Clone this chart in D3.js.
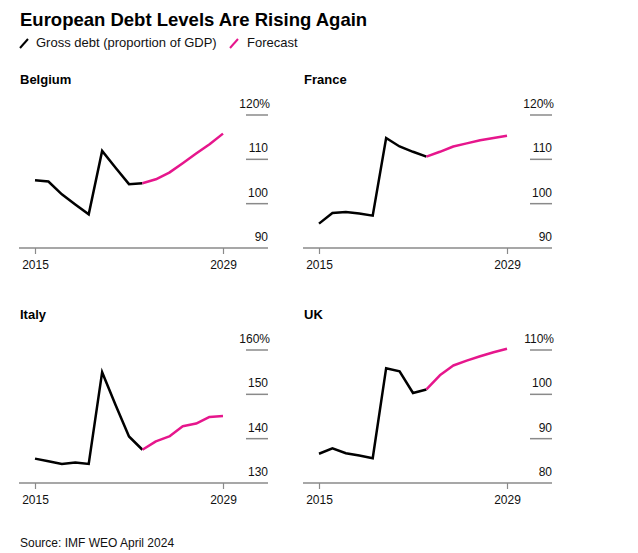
<!DOCTYPE html>
<html>
<head>
<meta charset="utf-8">
<script src="https://cdn.jsdelivr.net/npm/d3@7"></script>
<style>
  html, body { margin: 0; padding: 0; background: #fff; }
  svg { display: block; font-family: "Liberation Sans", Arial, sans-serif; }
</style>
</head>
<body>
<svg id="chart" width="638" height="553"></svg>
<script>
// ---- data ----
const years = [2015,2016,2017,2018,2019,2020,2021,2022,2023,2024,2025,2026,2027,2028,2029];
const forecastStartYear = 2023;
const countries = ["Belgium", "France", "Italy", "UK"];
const belgium = [105.3,105.0,102.1,99.8,97.6,111.9,108.1,104.4,104.6,105.5,107.0,109.1,111.3,113.4,115.8];
const france  = [95.5,97.9,98.1,97.8,97.3,114.8,112.9,111.7,110.6,111.7,112.9,113.6,114.3,114.8,115.3];
const italy   = [135.5,134.9,134.3,134.6,134.3,155.0,147.6,140.5,137.5,139.4,140.5,142.8,143.4,144.9,145.1];
const uk      = [86.6,87.8,86.7,86.2,85.6,105.9,105.2,100.3,101.1,104.3,106.5,107.6,108.6,109.5,110.3];
const belgiumTicks = [90,100,110,120];
const franceTicks  = [90,100,110,120];
const italyTicks   = [130,140,150,160];
const ukTicks      = [80,90,100,110];
const xTickLabels  = [2015, 2029];

const panels = [
  {name: countries[0], values: belgium, ticks: belgiumTicks, left: 19,  base: 248},
  {name: countries[1], values: france,  ticks: franceTicks,  left: 303, base: 248},
  {name: countries[2], values: italy,   ticks: italyTicks,   left: 19,  base: 483},
  {name: countries[3], values: uk,      ticks: ukTicks,      left: 303, base: 483}
];

const svg = d3.select("#chart");
const BLACK = "#000";
const PINK = "#e6168c";
const GRAY = "#8a8a8a";

// title
svg.append("text").attr("x", 20).attr("y", 26)
  .attr("font-size", 18.5).attr("font-weight", "bold").attr("fill", "#000")
  .text("European Debt Levels Are Rising Again");

// legend
const lg = svg.append("g");
lg.append("line").attr("x1", 20).attr("y1", 48).attr("x2", 28).attr("y2", 39)
  .attr("stroke", BLACK).attr("stroke-width", 2);
lg.append("text").attr("x", 36).attr("y", 47).attr("font-size", 13).attr("fill", "#111")
  .text("Gross debt (proportion of GDP)");
lg.append("line").attr("x1", 230).attr("y1", 48).attr("x2", 238).attr("y2", 39)
  .attr("stroke", PINK).attr("stroke-width", 2);
lg.append("text").attr("x", 247).attr("y", 47).attr("font-size", 13).attr("fill", "#111")
  .text("Forecast");

const W = 249, GRIDSPAN = 133;

panels.forEach(p => {
  const g = svg.append("g");
  const right = p.left + W;
  const x = d3.scaleLinear().domain([years[0], years[years.length-1]])
    .range([p.left + 16, p.left + 204]);
  const y = d3.scaleLinear().domain([p.ticks[0], p.ticks[p.ticks.length-1]])
    .range([p.base, p.base - GRIDSPAN]);

  // panel title
  g.append("text").attr("x", p.left + 1).attr("y", p.base - 164)
    .attr("font-size", 13).attr("font-weight", "bold").attr("fill", "#000")
    .text(p.name);

  // y gridlines + labels
  p.ticks.forEach((t, i) => {
    if (i > 0) {
      g.append("line").attr("x1", right - 22).attr("x2", right)
        .attr("y1", y(t)).attr("y2", y(t))
        .attr("stroke", GRAY).attr("stroke-width", 1.5);
    }
    const last = i === p.ticks.length - 1;
    g.append("text").attr("x", last ? right + 2 : right).attr("y", y(t) - 7)
      .attr("text-anchor", "end").attr("font-size", 12).attr("fill", "#111")
      .text(last ? t + "%" : t);
  });

  // baseline x axis
  g.append("line").attr("x1", p.left).attr("x2", right)
    .attr("y1", p.base).attr("y2", p.base)
    .attr("stroke", GRAY).attr("stroke-width", 1.5);
  const xAxis = d3.axisBottom(x).tickValues(xTickLabels).tickFormat(d3.format("d"))
    .tickSize(6).tickPadding(6);
  const ax = g.append("g").attr("transform", `translate(0,${p.base})`).call(xAxis);
  ax.select(".domain").remove();
  ax.selectAll("line").attr("stroke", GRAY).attr("stroke-width", 1.2);
  ax.selectAll("text").attr("font-size", 12).attr("fill", "#111")
    .attr("font-family", "Liberation Sans, Arial, sans-serif").attr("dy", "0.71em");

  // lines
  const pts = years.map((yr, i) => ({yr, v: p.values[i]}));
  const line = d3.line().x(d => x(d.yr)).y(d => y(d.v));
  const hist = pts.filter(d => d.yr <= forecastStartYear);
  const fc = pts.filter(d => d.yr >= forecastStartYear);
  g.append("path").attr("d", line(hist)).attr("fill", "none")
    .attr("stroke", BLACK).attr("stroke-width", 2.5).attr("stroke-linejoin", "miter");
  g.append("path").attr("d", line(fc)).attr("fill", "none")
    .attr("stroke", PINK).attr("stroke-width", 2.5).attr("stroke-linejoin", "round");
});

// source
svg.append("text").attr("x", 20).attr("y", 547).attr("font-size", 12).attr("fill", "#111")
  .text("Source: IMF WEO April 2024");
</script>
</body>
</html>
